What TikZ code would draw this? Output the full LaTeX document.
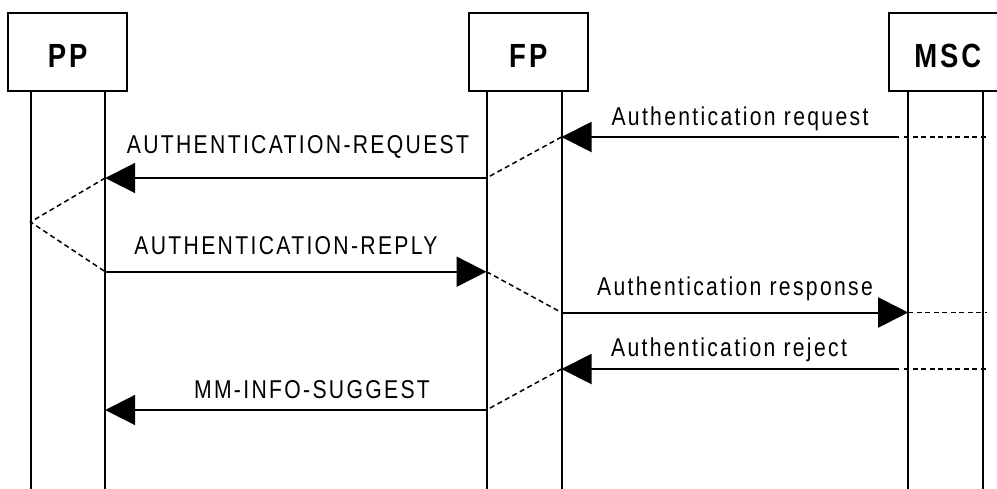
\documentclass[tikz,border=0pt]{standalone}
\usepackage{fontspec}
\setmainfont{Liberation Sans}[FakeStretch=0.82,LetterSpace=9]
\usetikzlibrary{arrows.meta}

\begin{document}
\begin{tikzpicture}[x=1pt, y=-1pt,
    entity/.style={draw, line width=2pt, minimum width=118.5pt, minimum height=78.5pt,
      inner sep=0pt, text height=30pt, text depth=0pt, font=\fontsize{33.5}{36}\selectfont\bfseries},
    life/.style={line width=2pt},
    msg/.style={line width=2pt, -{Triangle[length=30pt,width=30pt]}},
    relay/.style={line width=1.5pt, dash pattern=on 5pt off 3.5pt},
    lbl/.style={anchor=base, inner sep=0pt, font=\fontsize{25.8}{30}\selectfont}]
  \useasboundingbox (0,0) rectangle (997,488);
  % entities
  \node[entity] (pp) at (67.6,52) {PP};
  \node[entity] (fp) at (528.3,52) {FP};
  \node[entity] (msc) at (947.8,52) {MSC};
  % lifelines
  \coordinate (ppL) at (30.5,91.2);
  \coordinate (ppR) at (105.2,91.2);
  \coordinate (fpL) at (486.5,91.2);
  \coordinate (fpR) at (561.5,91.2);
  \coordinate (mscL) at (908.2,91.2);
  \coordinate (mscR) at (983.2,91.2);
  \coordinate (bottom) at (0,492);
  \foreach \l in {ppL,ppR,fpL,fpR,mscL,mscR}
    \draw[life] (\l) -- (\l |- bottom);
  % message rows
  \coordinate (r1) at (0,137);
  \coordinate (r2) at (0,178);
  \coordinate (turn) at (0,222);
  \coordinate (r3) at (0,271.7);
  \coordinate (r4) at (0,312.5);
  \coordinate (r5) at (0,369);
  \coordinate (r6) at (0,410);
  \coordinate (mscS) at (899,0);
  \coordinate (mscD) at (904,0);
  \coordinate (mscE) at (987,0);
  % authentication request
  \draw[relay] (mscD |- r1) -- (mscE |- r1);
  \draw[msg] (mscS |- r1) -- (fpR |- r1);
  \node[lbl] (t1) at (740,125) {Authentication request};
  \draw[relay] (fpR |- r1) -- (fpL |- r2);
  \draw[msg] (fpL |- r2) -- (ppR |- r2);
  \node[lbl] (t2) at (298,153) {AUTHENTICATION-REQUEST};
  \draw[relay] (ppR |- r2) -- (ppL |- turn) -- (ppR |- r3);
  % reply
  \draw[msg] (ppR |- r3) -- (fpL |- r3);
  \node[lbl] (t3) at (286,254.3) {AUTHENTICATION-REPLY};
  \draw[relay] (fpL |- r3) -- (fpR |- r4);
  \draw[msg] (fpR |- r4) -- (mscL |- r4);
  \draw[relay] (mscL |- r4) -- (mscE |- r4);
  \node[lbl] (t4) at (735,295) {Authentication response};
  % reject
  \draw[relay] (mscD |- r5) -- (mscE |- r5);
  \draw[msg] (mscS |- r5) -- (fpR |- r5);
  \node[lbl] (t5) at (729,356.7) {Authentication reject};
  \draw[relay] (fpR |- r5) -- (fpL |- r6);
  \draw[msg] (fpL |- r6) -- (ppR |- r6);
  \node[lbl] (t6) at (312,398) {MM-INFO-SUGGEST};
\end{tikzpicture}
\end{document}
